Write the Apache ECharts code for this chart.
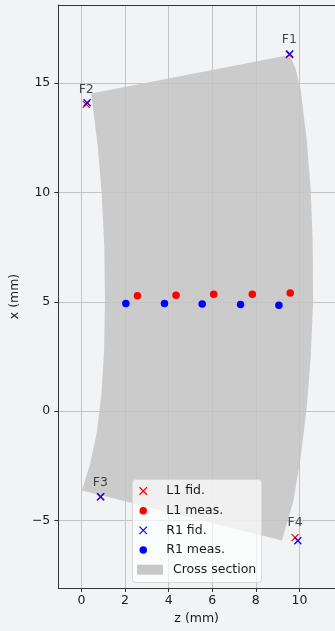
<!DOCTYPE html>
<html><head><meta charset="utf-8">
<script src="https://cdn.jsdelivr.net/npm/echarts@6/dist/echarts.min.js"></script>
<style>html,body{margin:0;padding:0;background:#f2f3f5;}#c{width:335px;height:631px;}</style>
</head><body><div id="c"></div>
<script>
// ---- data ----
var xTicks = [0, 2, 4, 6, 8, 10];
var yTicks = [-5, 0, 5, 10, 15];
var crossZ = [0.45, 9.54, 9.80, 10.06, 10.34, 10.52, 10.61, 10.63, 10.52, 10.34, 10.06, 9.73, 9.20, 0.02, 0.40, 0.70, 0.92, 1.04, 1.08, 1.05, 0.93, 0.75];
var crossX = [14.53, 16.28, 15.75, 14.68, 12.39, 10.10, 7.82, 5.00, 2.47, 0.19, -2.10, -4.08, -5.91, -3.62, -2.40, -1.00, 0.80, 2.80, 5.00, 7.50, 9.95, 12.09];
var fidNames = ['F1', 'F2', 'F3', 'F4'];
var l1FidZ = [9.54, 0.22, 0.87, 9.80];
var l1FidX = [16.30, 14.03, -3.92, -5.78];
var r1FidZ = [9.56, 0.26, 0.89, 9.93];
var r1FidX = [16.33, 14.10, -3.90, -5.92];
var l1MeasZ = [2.57, 4.34, 6.07, 7.84, 9.58];
var l1MeasX = [5.28, 5.30, 5.35, 5.35, 5.40];
var r1MeasZ = [2.04, 3.81, 5.54, 7.30, 9.06];
var r1MeasX = [4.92, 4.93, 4.90, 4.88, 4.85];

function pairs(a, b) { return a.map(function (v, i) { return [v, b[i]]; }); }

var FONT = 'DejaVu Sans';
var crossPath = 'path://M0,0L10,10M10,0L0,10';
var chart = echarts.init(document.getElementById('c'), null, {renderer: 'canvas'});

var legendText = {fontFamily: FONT, fontSize: 12.5, color: '#1a1a1a', lineHeight: 14, padding: [0, 0, 0, 5]};
var XMIN = -1.06, XMAX = -1.06 + 278 / 21.9;
var labelStyle = {fontFamily: FONT, fontSize: 12.5, color: '#1a1a1a'};
function minusFmt(v) { return String(v).replace('-', '\u2212'); }

chart.setOption({
  backgroundColor: '#f2f3f5',
  animation: false,
  grid: {left: 57, top: 5, right: 0, height: 583, show: false},
  xAxis: [{
    type: 'value', min: XMIN, max: XMAX, position: 'bottom',
    name: 'z (mm)', nameLocation: 'middle', nameGap: 24,
    nameTextStyle: labelStyle,
    axisLine: {show: true, onZero: false, lineStyle: {color: '#333', width: 1}},
    axisTick: {show: true, length: 4, customValues: xTicks, lineStyle: {color: '#333'}},
    axisLabel: Object.assign({customValues: xTicks, margin: 6, formatter: minusFmt}, labelStyle),
    splitLine: {show: true, lineStyle: {color: '#c4c4c4', width: 1}}
  }, {
    type: 'value', min: XMIN, max: XMAX, position: 'top',
    axisLine: {show: true, onZero: false, lineStyle: {color: '#333', width: 1}},
    axisTick: {show: false}, axisLabel: {show: false}, splitLine: {show: false}
  }],
  yAxis: {
    type: 'value', min: -8.08, max: 18.57,
    name: 'x (mm)', nameLocation: 'middle', nameGap: 31,
    nameTextStyle: labelStyle,
    axisLine: {show: true, onZero: false, lineStyle: {color: '#333', width: 1}},
    axisTick: {show: true, length: 4, customValues: yTicks, lineStyle: {color: '#333'}},
    axisLabel: Object.assign({customValues: yTicks, margin: 8, formatter: minusFmt}, labelStyle),
    splitLine: {show: true, lineStyle: {color: '#c4c4c4', width: 1}}
  },
  legend: [
    {
      left: 137, top: 484, orient: 'vertical', padding: 0, itemGap: 5.7,
      itemWidth: 26, itemHeight: 7.5, selectedMode: false, z: 20,
      textStyle: legendText,
      data: [
        {name: 'L1 fid.', icon: crossPath, itemStyle: {color: 'none', borderColor: '#ff0000', borderWidth: 1.2}},
        {name: 'L1 meas.', icon: 'circle', itemStyle: {color: '#ff0000', borderWidth: 0}},
        {name: 'R1 fid.', icon: crossPath, itemStyle: {color: 'none', borderColor: '#0000ff', borderWidth: 1.2}},
        {name: 'R1 meas.', icon: 'circle', itemStyle: {color: '#0000ff', borderWidth: 0}}
      ]
    },
    {
      left: 137, top: 562.7, orient: 'vertical', padding: 0,
      itemWidth: 26, itemHeight: 10, selectedMode: false, z: 20,
      textStyle: legendText,
      data: [{name: 'Cross section', icon: 'rect', itemStyle: {color: '#c8c8c8', borderWidth: 0}}]
    }
  ],
  graphic: [{
    type: 'rect', z: 15, zlevel: 0,
    shape: {x: 132.5, y: 479.5, width: 129, height: 103, r: 3},
    style: {fill: 'rgba(255,255,255,0.7)', stroke: '#d8d8d8', lineWidth: 1}
  }],
  series: [
    {
      name: 'Cross section', type: 'custom', z: -1,
      data: [0],
      renderItem: function (params, api) {
        var pts = crossZ.map(function (z, i) { return api.coord([z, crossX[i]]); });
        return {type: 'polygon', shape: {points: pts, smooth: 0}, style: {fill: '#cbcbcb', stroke: 'none'}};
      },
      itemStyle: {color: '#c8c8c8'},
      silent: true
    },
    {
      name: 'L1 fid.', type: 'scatter', symbol: crossPath, symbolSize: 7, z: 3,
      itemStyle: {color: 'none', borderColor: '#ff0000', borderWidth: 1.2, opacity: 1},
      data: pairs(l1FidZ, l1FidX)
    },
    {
      name: 'L1 meas.', type: 'scatter', symbol: 'circle', symbolSize: 7.5, z: 3,
      itemStyle: {color: '#ff0000', opacity: 1},
      data: pairs(l1MeasZ, l1MeasX)
    },
    {
      name: 'R1 fid.', type: 'scatter', symbol: crossPath, symbolSize: 7, z: 4,
      itemStyle: {color: 'none', borderColor: '#0000ff', borderWidth: 1.2, opacity: 1},
      data: pairs(r1FidZ, r1FidX)
    },
    {
      name: 'R1 meas.', type: 'scatter', symbol: 'circle', symbolSize: 7.5, z: 4,
      itemStyle: {color: '#0000ff', opacity: 1},
      data: pairs(r1MeasZ, r1MeasX)
    },
    {
      name: 'labels', type: 'scatter', symbolSize: 0, z: 5, silent: true,
      data: l1FidZ.map(function (z, i) { return {value: [z, l1FidX[i]], name: fidNames[i]}; }),
      label: {show: true, position: 'top', distance: 8, formatter: '{b}', fontFamily: FONT, fontSize: 12.5, color: '#1a1a1a'}
    }
  ]
});
</script></body></html>
